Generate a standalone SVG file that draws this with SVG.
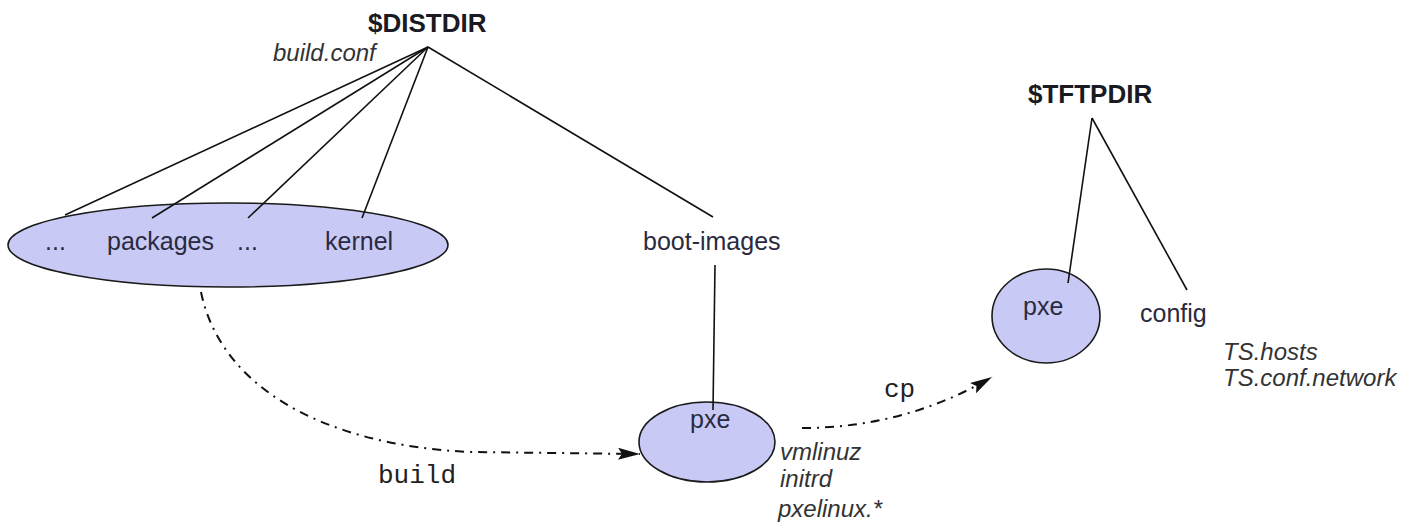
<svg xmlns="http://www.w3.org/2000/svg" width="1412" height="527" viewBox="0 0 1412 527">
<style>
.bg{fill:#ffffff}
.node{fill:#c9c9f6;stroke:#1a1a1a;stroke-width:1.6}
.tree{stroke:#111;stroke-width:1.6;fill:none}
.flow{stroke:#111;stroke-width:2;fill:none;stroke-dasharray:9 6 2 6}
.lbl{font-family:"Liberation Sans",Arial,sans-serif;font-size:25px;fill:#2a2a40}
.dir{font-family:"Liberation Sans",Arial,sans-serif;font-size:26px;font-weight:bold;fill:#1a1a22}
.file{font-family:"Liberation Sans",Arial,sans-serif;font-size:24px;font-style:italic;fill:#333}
.cmd{font-family:"Liberation Mono","Courier New",monospace;font-size:26px;fill:#222}
</style>
<defs>
<marker id="arr" viewBox="0 0 22 12" refX="22" refY="6" markerWidth="22" markerHeight="12" markerUnits="userSpaceOnUse" orient="auto">
<path d="M0,0 L22,6 L0,12 L4,6 z" fill="#111"/>
</marker>
</defs>
<rect class="bg" x="0" y="0" width="1412" height="527"/>

<g id="distdir">
<text class="dir" x="368" y="32">$DISTDIR</text>
<text class="file" x="273" y="61">build.conf</text>
</g>

<g id="ellipse-packages">
<ellipse class="node" cx="228" cy="245" rx="220" ry="42"/>
<text class="lbl" x="45" y="250">...</text>
<text class="lbl" x="107" y="250">packages</text>
<text class="lbl" x="237" y="250">...</text>
<text class="lbl" x="325" y="250">kernel</text>
</g>

<g id="boot-images">
<text class="lbl" x="643" y="250">boot-images</text>
</g>

<g id="pxe-build">
<ellipse class="node" cx="707" cy="442" rx="68" ry="40"/>
<text class="lbl" x="690" y="428">pxe</text>
<text class="file" x="780" y="460">vmlinuz</text>
<text class="file" x="780" y="487">initrd</text>
<text class="file" x="778" y="517">pxelinux.*</text>
</g>

<g id="tftpdir">
<text class="dir" x="1028" y="103">$TFTPDIR</text>
</g>

<g id="pxe-tftp">
<ellipse class="node" cx="1046" cy="316" rx="54" ry="47"/>
<text class="lbl" x="1023" y="315">pxe</text>
</g>

<g id="config">
<text class="lbl" x="1140" y="322">config</text>
<text class="file" x="1223" y="360">TS.hosts</text>
<text class="file" x="1223" y="386">TS.conf.network</text>
</g>

<g id="connectors">
<line class="tree" x1="428" y1="47" x2="65" y2="215"/>
<line class="tree" x1="428" y1="47" x2="152" y2="218"/>
<line class="tree" x1="428" y1="47" x2="248" y2="218"/>
<line class="tree" x1="428" y1="47" x2="362" y2="218"/>
<line class="tree" x1="428" y1="47" x2="713" y2="217"/>
<line class="tree" x1="715" y1="265" x2="713" y2="410"/>
<line class="tree" x1="1092" y1="118" x2="1068" y2="283"/>
<line class="tree" x1="1092" y1="118" x2="1187" y2="290"/>
<path class="flow" d="M201,292 C220,385 320,445 470,452 L640,454" marker-end="url(#arr)"/>
<text class="cmd" x="378" y="483">build</text>
<path class="flow" d="M802,428 Q905,428 992,377" marker-end="url(#arr)"/>
<text class="cmd" x="884" y="397">cp</text>
</g>
</svg>
